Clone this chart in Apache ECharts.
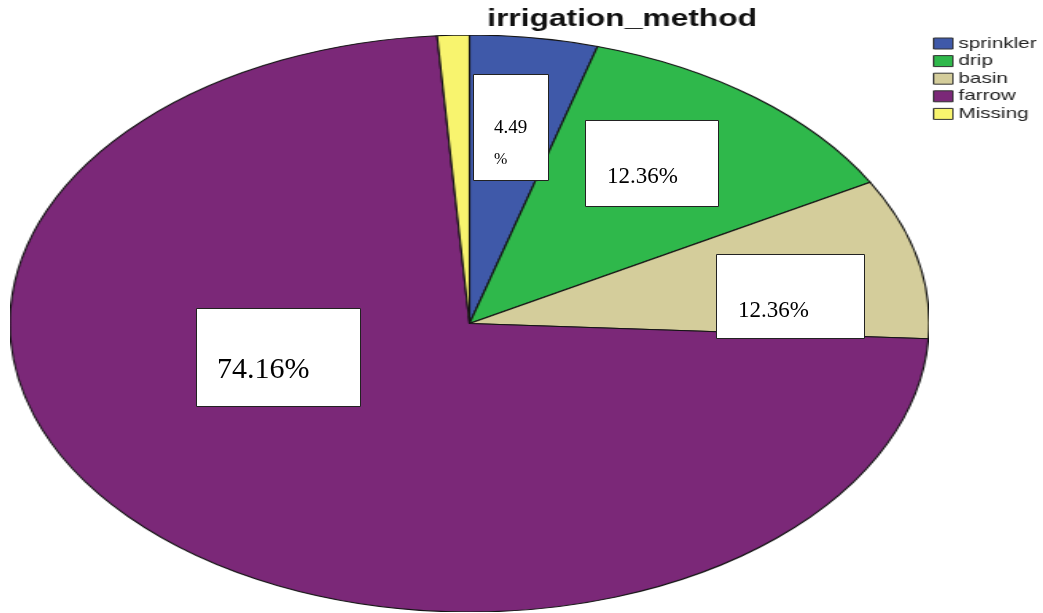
<!DOCTYPE html>
<html>
<head>
<meta charset="utf-8">
<title>irrigation_method</title>
<script src="https://cdn.jsdelivr.net/npm/echarts@6/dist/echarts.min.js"></script>
<style>
  html, body { margin: 0; padding: 0; background: #fff; }
  #wrap { position: relative; width: 1043px; height: 613px; overflow: hidden; }
  /* SPSS draws the pie as an ellipse: circle stretched sideways */
  #pie { position: absolute; left: 181px; top: 35px; width: 577px; height: 577px; transform: scaleX(1.5927); transform-origin: 50% 50%; }
  /* title + legend are rendered wide in the original too */
  #head { position: absolute; left: 0; top: 0; width: 756px; height: 613px; transform: scaleX(1.38); transform-origin: 0 0; }
  #labels { position: absolute; left: 0; top: 0; width: 1043px; height: 613px; }
</style>
</head>
<body>
<div id="wrap">
  <div id="pie"></div>
  <div id="head"></div>
  <div id="labels"></div>
</div>
<script>
const categories = ['sprinkler', 'drip', 'basin', 'farrow', 'Missing']
const counts = [4, 11, 8, 65, 1]
const colors = ['#3f59a9', '#2fb84b', '#d4cd9b', '#7b2878', '#f8f46e']
// percentages as printed on the chart (basin/farrow boxes don't match the slices)
const labelText = ['4.49\n%', '12.36%', '12.36%', '74.16%', '']

const pieData = categories.map((name, i) => ({
  name: name,
  value: counts[i],
  itemStyle: { color: colors[i] }
}))

const pieChart = echarts.init(document.getElementById('pie'))
pieChart.setOption({
  animation: false,
  series: [{
    type: 'pie',
    center: ['50%', '50%'],
    radius: '100%',
    startAngle: 90,
    clockwise: true,
    silent: true,
    label: { show: false },
    labelLine: { show: false },
    emphasis: { disabled: true },
    itemStyle: { borderColor: '#151515', borderWidth: 1.1 },
    data: pieData
  }]
})

const headChart = echarts.init(document.getElementById('head'))
headChart.setOption({
  animation: false,
  title: {
    text: 'irrigation_method',
    left: 353,
    top: 8,
    padding: 0,
    textStyle: {
      fontFamily: 'Liberation Sans',
      fontSize: 23,
      fontWeight: 'bold',
      color: '#111'
    }
  },
  legend: {
    orient: 'vertical',
    left: 676,
    top: 36,
    padding: 0,
    itemWidth: 14,
    itemHeight: 11,
    itemGap: 2.6,
    icon: 'rect',
    selectedMode: false,
    itemStyle: { borderColor: '#333', borderWidth: 1 },
    textStyle: { fontFamily: 'Liberation Sans', fontSize: 15, color: '#222', padding: [0, 0, 0, -1] },
    data: categories
  },
  series: [{
    type: 'pie',
    radius: [0, 0],
    silent: true,
    label: { show: false },
    data: pieData
  }]
})

// white boxes with the percentages, placed where the original has them
const boxes = [
  { x: 473, y: 74, w: 75, h: 106, tx: 494, ty: [128, 160], size: [19, 16] },
  { x: 585, y: 120, w: 133, h: 86, tx: 607, ty: [177], size: [23] },
  { x: 716, y: 254, w: 148, h: 84, tx: 738, ty: [311], size: [23] },
  { x: 196, y: 308, w: 164, h: 98, tx: 217, ty: [370], size: [30] }
]

const graphic = []
boxes.forEach((b, i) => {
  graphic.push({
    type: 'rect',
    shape: { x: b.x + 0.5, y: b.y + 0.5, width: b.w, height: b.h },
    style: { fill: '#fff', stroke: '#222', lineWidth: 1 }
  })
  labelText[i].split('\n').forEach((line, k) => {
    graphic.push({
      type: 'text',
      x: b.tx,
      y: b.ty[k],
      style: {
        text: line,
        fontFamily: 'Liberation Serif',
        fontSize: b.size[k],
        fill: '#000',
        textAlign: 'left',
        textVerticalAlign: 'middle'
      }
    })
  })
})

const labelChart = echarts.init(document.getElementById('labels'))
labelChart.setOption({
  animation: false,
  graphic: graphic
})
</script>
</body>
</html>
